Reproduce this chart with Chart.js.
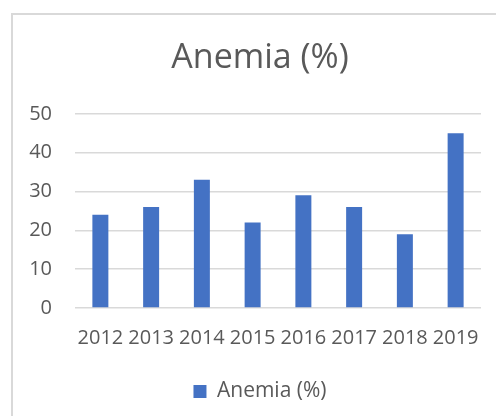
<!DOCTYPE html>
<html>
<head>
<meta charset="utf-8">
<script src="https://cdn.jsdelivr.net/npm/chart.js@4"></script>
<style>
  html, body { margin: 0; padding: 0; background: #fff; overflow: hidden; }
  #frame {
    position: absolute; left: 11px; top: 13px; width: 500px; height: 420px;
    border-top: 2px solid #d9d9d9; border-left: 2px solid #d9d9d9;
  }
  #wrap { position: absolute; left: 0; top: 0; width: 496px; height: 416px; }
</style>
</head>
<body>
<div id="frame"></div>
<div id="wrap"><canvas id="chart" width="496" height="416"></canvas></div>
<script>
/* ================= DATA ================= */

const years = ["2012", "2013", "2014", "2015", "2016", "2017", "2018", "2019"];
const anemia = [24, 26, 33, 22, 29, 26, 19, 45];
const seriesName = "Anemia (%)";
const yTicks = [0, 10, 20, 30, 40, 50];

/* ================= CHART ================= */

const textColor = "#595959";
const gridColor = "#d9d9d9";
const fontFamily = "'Open Sans', sans-serif";

new Chart(document.getElementById("chart"), {
  type: "bar",
  data: {
    labels: years,
    datasets: [
      {
        label: seriesName,
        data: anemia,
        backgroundColor: "#4472c4",
        borderWidth: 0,
        categoryPercentage: 1,
        barPercentage: 0.315
      }
    ]
  },
  options: {
    responsive: false,
    animation: false,
    layout: { padding: { left: 24, right: 0, top: 18, bottom: 4 } },
    plugins: {
      title: {
        display: true,
        text: seriesName,
        color: textColor,
        font: { family: fontFamily, size: 34, weight: "normal" },
        padding: { top: 20, bottom: 35 }
      },
      legend: {
        position: "bottom",
        labels: {
          color: textColor,
          font: { family: fontFamily, size: 21 },
          boxWidth: 13,
          boxHeight: 13,
          padding: 10
        }
      },
      tooltip: { enabled: false }
    },
    scales: {
      x: {
        afterFit: scale => { scale.height = 63; },
        grid: { display: false },
        border: { display: false },
        ticks: {
          color: textColor,
          font: { family: fontFamily, size: 20 },
          maxRotation: 0,
          autoSkip: false,
          padding: 10
        }
      },
      y: {
        min: yTicks[0],
        max: yTicks[yTicks.length - 1],
        afterFit: scale => { scale.width = 51; },
        afterBuildTicks: scale => {
          scale.ticks = yTicks.map(v => ({ value: v }));
        },
        grid: { color: gridColor, lineWidth: 1.5, drawTicks: false },
        border: { display: false },
        ticks: {
          color: textColor,
          font: { family: fontFamily, size: 20 },
          padding: 23
        }
      },
      // empty right margin so the title and legend stay centred like the original
      yRight: {
        type: "linear",
        position: "right",
        afterFit: scale => { scale.width = 15; },
        grid: { display: false },
        border: { display: false },
        ticks: { display: false }
      }
    }
  }
});
</script>
</body>
</html>
